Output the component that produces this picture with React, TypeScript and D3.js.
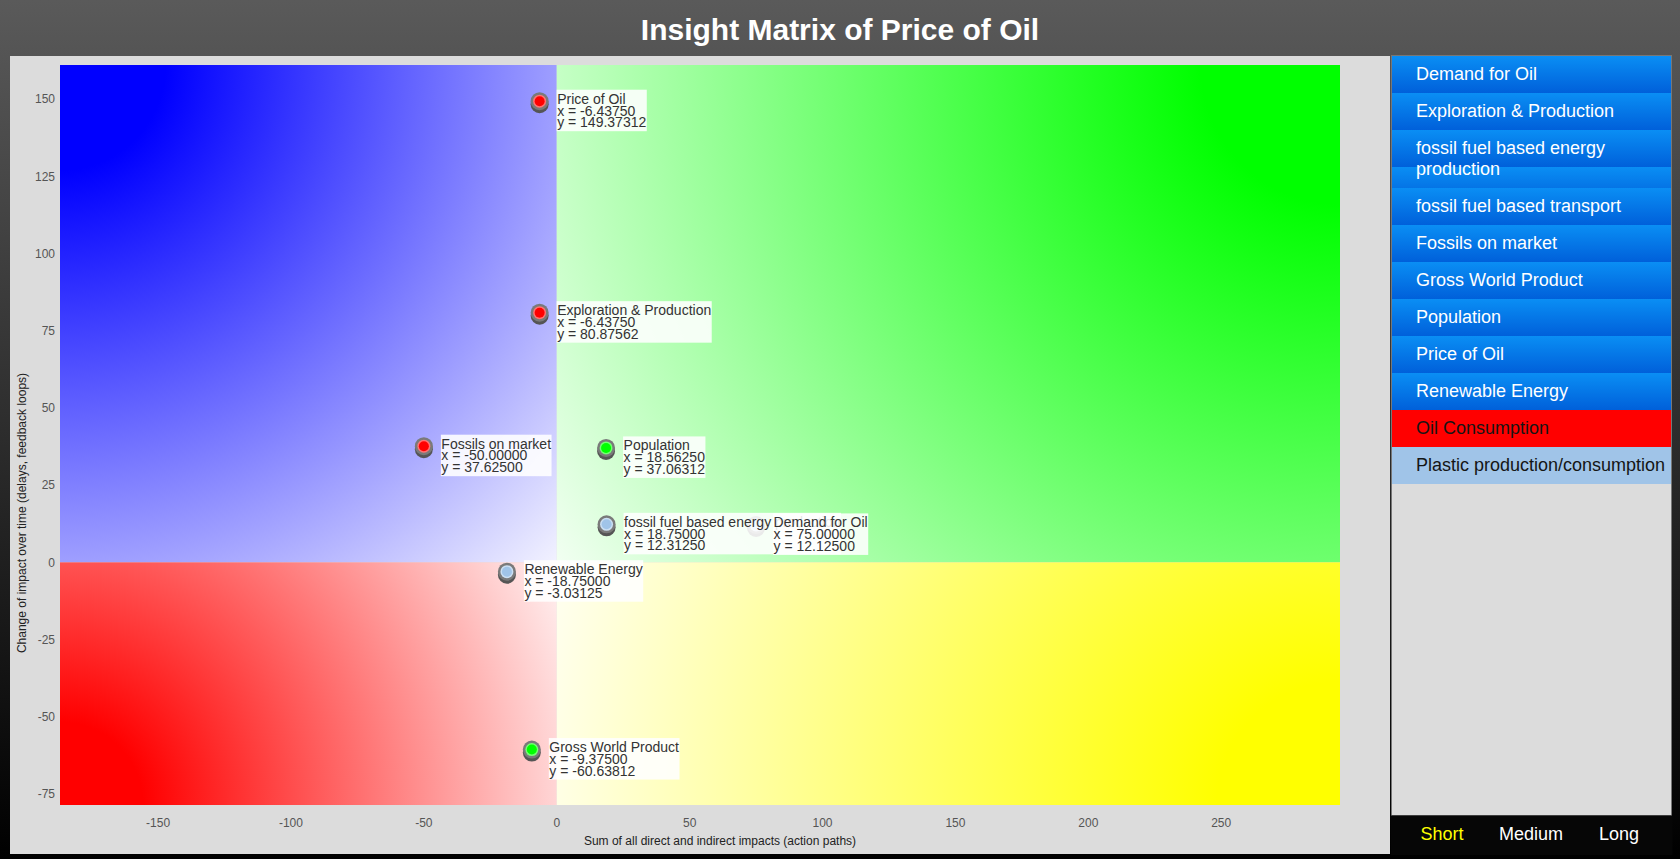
import React from "react";
import * as d3 from "d3";

// ---------- data ----------
const pointNames = [
  "Price of Oil",
  "Exploration & Production",
  "Fossils on market",
  "Population",
  "fossil fuel based energy production",
  "Demand for Oil",
  "Renewable Energy",
  "Gross World Product",
];
const pointX = [-6.4375, -6.4375, -50.0, 18.5625, 18.75, 75.0, -18.75, -9.375];
const pointY = [149.37312, 80.87562, 37.625, 37.06312, 12.3125, 12.125, -3.03125, -60.63812];
const pointColors = ["#ff0000", "#ff0000", "#ff0000", "#00ff00", "#a0c4e8", "#a0c4e8", "#a0c4e8", "#00ff00"];

const xTicks = [-150, -100, -50, 0, 50, 100, 150, 200, 250];
const yTicks = [-75, -50, -25, 0, 25, 50, 75, 100, 125, 150];
const xDomain = [-186.9, 294.7];
const yDomain = [-78.6, 161.1];

const legendItems = [
  "Demand for Oil",
  "Exploration & Production",
  "fossil fuel based energy production",
  "fossil fuel based transport",
  "Fossils on market",
  "Gross World Product",
  "Population",
  "Price of Oil",
  "Renewable Energy",
  "Oil Consumption",
  "Plastic production/consumption",
];
const legendKinds = ["blue", "blue", "blue", "blue", "blue", "blue", "blue", "blue", "blue", "red", "light"];
const horizonLabels = ["Short", "Medium", "Long"];
const horizonColors = ["#ffff00", "#ffffff", "#ffffff"];

const titleText = "Insight Matrix of Price of Oil";
const xAxisTitle = "Sum of all direct and indirect impacts (action paths)";
const yAxisTitle = "Change of impact over time (delays, feedback loops)";

const FONT = "'Liberation Sans', Arial, Helvetica, sans-serif";

let _ctx: CanvasRenderingContext2D | null = null;
function measure(text: string, font: string) {
  if (!_ctx) _ctx = document.createElement("canvas").getContext("2d");
  _ctx!.font = font;
  return _ctx!.measureText(text).width;
}

function wrap(text: string, font: string, maxW: number) {
  const words = text.split(" ");
  const lines: string[] = [];
  let cur = "";
  for (const w of words) {
    const t = cur ? cur + " " + w : w;
    if (measure(t, font) > maxW && cur) {
      lines.push(cur);
      cur = w;
    } else cur = t;
  }
  if (cur) lines.push(cur);
  return lines;
}

export default function App() {
  const W = 1680, H = 859;
  const plot = { left: 60, right: 1340, top: 65, bottom: 805 };
  const x = d3.scaleLinear().domain(xDomain).range([plot.left, plot.right]);
  const y = d3.scaleLinear().domain(yDomain).range([plot.bottom, plot.top]);
  const x0 = x(0), y0 = y(0);

  const quads = [
    { id: "qb", color: "#0000ff", x: plot.left, y: plot.top, w: x0 - plot.left, h: y0 - plot.top, cx: plot.left, cy: plot.top },
    { id: "qg", color: "#00ff00", x: x0, y: plot.top, w: plot.right - x0, h: y0 - plot.top, cx: plot.right, cy: plot.top },
    { id: "qr", color: "#ff0000", x: plot.left, y: y0, w: x0 - plot.left, h: plot.bottom - y0, cx: plot.left, cy: plot.bottom },
    { id: "qy", color: "#ffff00", x: x0, y: y0, w: plot.right - x0, h: plot.bottom - y0, cx: plot.right, cy: plot.bottom },
  ];

  const labelFont = `14px ${FONT}`;
  const points = pointNames.map((n, i) => {
    const lines = [n, `x = ${pointX[i].toFixed(5)}`, `y = ${pointY[i].toFixed(5)}`];
    const w = d3.max(lines, (l) => measure(l, labelFont)) as number;
    return { name: n, cx: x(pointX[i]), cy: y(pointY[i]), color: pointColors[i], lines, w };
  });

  // legend layout
  const legFont = `18px ${FONT}`;
  const legTop = 56;
  let yy = legTop;
  const legend = legendItems.map((t, i) => {
    const lines = wrap(t, legFont, 250);
    const h = 37 + (lines.length - 1) * 21;
    const item = { t, lines, top: yy, h, kind: legendKinds[i] };
    yy += h;
    return item;
  });

  return (
    <div style={{ position: "fixed", left: 0, top: 0, width: W, height: H }}>
      <svg width={W} height={H} style={{ display: "block" }} fontFamily={FONT}>
        <defs>
          <linearGradient id="pagebg" x1="0" y1="0" x2="0" y2="1">
            <stop offset="0" stopColor="#5a5a5a" />
            <stop offset="1" stopColor="#000000" />
          </linearGradient>
          {quads.map((q) => (
            <radialGradient key={q.id} id={q.id} gradientUnits="userSpaceOnUse" cx={q.cx} cy={q.cy} r={Math.hypot(q.w, q.h)}>
              <stop offset="0" stopColor={q.color} />
              <stop offset="0.15" stopColor={q.color} />
              <stop offset="1" stopColor={d3.interpolateRgb(q.color, "#ffffff")(0.95)} />
            </radialGradient>
          ))}
          <linearGradient id="itemgrad" x1="0" y1="0" x2="0" y2="1">
            <stop offset="0" stopColor="#0a8ef4" />
            <stop offset="1" stopColor="#0060da" />
          </linearGradient>
          {legend.map((it, i) => (
            <pattern key={i} id={`lp${i}`} patternUnits="userSpaceOnUse" x={0} y={it.top} width={W} height={37}>
              <rect x={0} y={0} width={W} height={37} fill="url(#itemgrad)" />
            </pattern>
          ))}
        </defs>

        <rect x={0} y={0} width={W} height={H} fill="url(#pagebg)" />

        <text x={840} y={40} textAnchor="middle" fill="#ffffff" fontWeight="bold" fontSize={30}>
          {titleText}
        </text>

        {/* main panel */}
        <rect x={10} y={56} width={1380} height={798} fill="#dcdcdc" />

        {quads.map((q) => (
          <rect key={q.id} x={q.x} y={q.y} width={q.w} height={q.h} fill={`url(#${q.id})`} />
        ))}

        {/* axes */}
        {xTicks.map((t) => (
          <text key={t} x={x(t)} y={827} textAnchor="middle" fontSize={12} fill="#555">
            {t}
          </text>
        ))}
        {yTicks.map((t) => (
          <text key={t} x={55} y={y(t)} dy="0.35em" textAnchor="end" fontSize={12} fill="#555">
            {t}
          </text>
        ))}
        <text x={720} y={845} textAnchor="middle" fontSize={12} fill="#222">
          {xAxisTitle}
        </text>
        <text transform="translate(26,513) rotate(-90)" textAnchor="middle" fontSize={12} fill="#222">
          {yAxisTitle}
        </text>

        {/* markers */}
        {points.map((p, i) => (
          <g key={"m" + i}>
            <circle cx={p.cx} cy={p.cy + 3} r={9} fill="#555" />
            <circle cx={p.cx} cy={p.cy} r={9} fill="#7a7a7a" />
            <circle cx={p.cx} cy={p.cy} r={6.5} fill={d3.interpolateRgb(p.color, "#fff")(0.45)} />
            <circle cx={p.cx} cy={p.cy} r={5} fill={p.color} />
          </g>
        ))}

        {/* labels */}
        {points.map((p, i) => (
          <g key={"l" + i}>
            <rect x={p.cx + 17} y={p.cy - 11.5} width={p.w + 1} height={41.5} fill="#ffffff" fillOpacity={0.88} />
            {p.lines.map((l, j) => (
              <text key={j} x={p.cx + 17.5} y={p.cy + 2.5 + j * 11.8} fontSize={14} fill="#333">
                {l}
              </text>
            ))}
          </g>
        ))}

        {/* legend panel */}
        <rect x={1391.5} y={55.5} width={280} height={760} fill="#dcdcdc" stroke="#777" strokeWidth={1} />
        {legend.map((it, i) => (
          <g key={"lg" + i}>
            <rect
              x={1392}
              y={it.top}
              width={279}
              height={it.h}
              fill={it.kind === "blue" ? `url(#lp${i})` : it.kind === "red" ? "#ff0000" : "#a0c4e8"}
            />
            {it.lines.map((l, j) => (
              <text
                key={j}
                x={1416}
                y={it.top + 24.3 + j * 20.5}
                fontSize={18}
                fill={it.kind === "blue" ? "#ffffff" : "#151515"}
              >
                {l}
              </text>
            ))}
          </g>
        ))}
        <rect x={1391} y={815.5} width={281.5} height={39.5} fill="#060606" />
        {horizonLabels.map((h, i) => (
          <text key={h} x={[1442, 1531, 1619][i]} y={840} textAnchor="middle" fontSize={18} fill={horizonColors[i]}>
            {h}
          </text>
        ))}
      </svg>
    </div>
  );
}
